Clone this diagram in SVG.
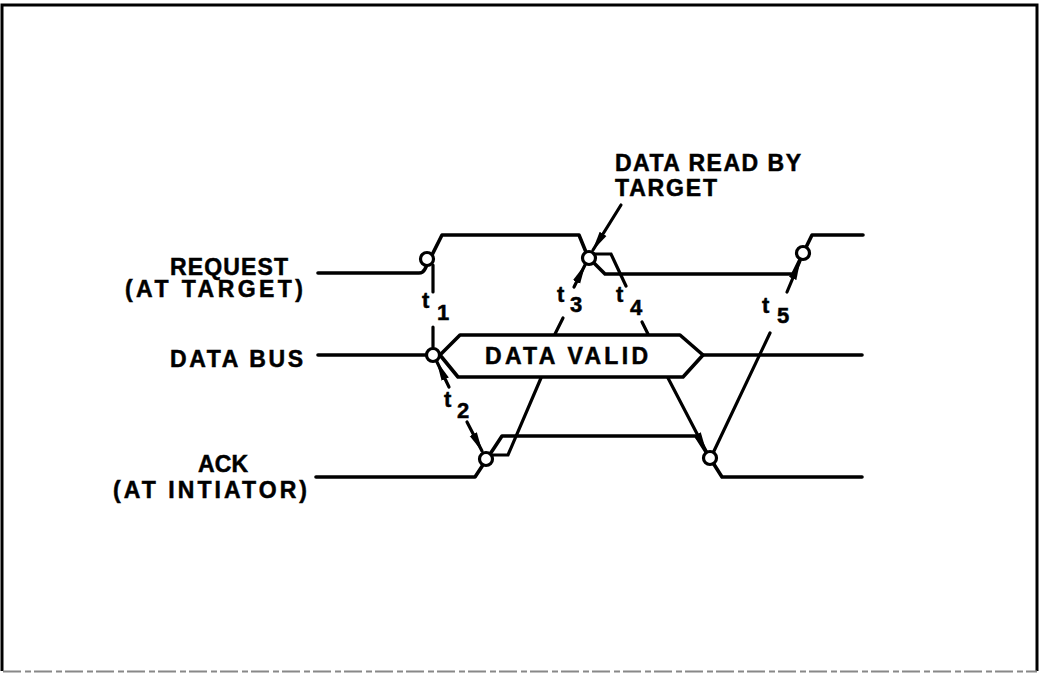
<svg xmlns="http://www.w3.org/2000/svg" width="1042" height="673" viewBox="0 0 1042 673">
  <style>
    .wave { fill: none; stroke: #000; stroke-width: 3.6; stroke-linejoin: round; stroke-linecap: round; }
    .conn { fill: none; stroke: #000; stroke-width: 3.2; stroke-linecap: round; }
    .evt  { fill: #fff; stroke: #000; stroke-width: 3.2; }
    .lbl  { font-family: "Liberation Sans", Arial, sans-serif; font-weight: bold; font-size: 23px; fill: #000; stroke: #000; stroke-width: 0.5; }
    .tl   { font-family: "Liberation Sans", Arial, sans-serif; font-weight: bold; font-size: 22px; fill: #000; stroke: #000; stroke-width: 0.5; }
  </style>
  <defs>
    <marker id="head" markerUnits="userSpaceOnUse" markerWidth="20" markerHeight="10" viewBox="0 0 20 10" refX="19" refY="5" orient="auto">
      <path d="M0,1 L20,5 L0,9 Z" fill="#000"/>
    </marker>
  </defs>

  <rect width="1042" height="673" fill="#fff"/>

  <!-- frame -->
  <g id="frame">
    <path d="M2,671 L2,5 L1037,5 L1037,671" fill="none" stroke="#000" stroke-width="3"/>
    <line x1="3" y1="671.5" x2="1037" y2="671.5" stroke="#888" stroke-width="2" stroke-dasharray="18 4 6 3"/>
  </g>

  <!-- signal labels -->
  <g id="label-request">
    <text class="lbl" x="170" y="275" textLength="118" lengthAdjust="spacing">REQUEST</text>
    <text class="lbl" x="125" y="297" textLength="178" lengthAdjust="spacing">(AT TARGET)</text>
  </g>
  <g id="label-databus">
    <text class="lbl" x="170" y="367" textLength="133" lengthAdjust="spacing">DATA BUS</text>
  </g>
  <g id="label-ack">
    <text class="lbl" x="198" y="472" textLength="50" lengthAdjust="spacing">ACK</text>
    <text class="lbl" x="113" y="498" textLength="194" lengthAdjust="spacing">(AT INTIATOR)</text>
  </g>
  <g id="label-dataread">
    <text class="lbl" x="615" y="171" textLength="186" lengthAdjust="spacing">DATA READ BY</text>
    <text class="lbl" x="615" y="196" textLength="102" lengthAdjust="spacing">TARGET</text>
  </g>

  <!-- REQUEST waveform -->
  <g id="request">
    <path class="wave" d="M318,273 L419,273 Q423,273 425,269 L442,235 L579,235 L588,257 L605,274 L793,274 L812,235 L863,235"/>
    <circle class="evt" cx="427" cy="259" r="6.5"/>
    <circle class="evt" cx="589" cy="258" r="6.5"/>
    <circle class="evt" cx="803" cy="253" r="6.5"/>
  </g>

  <!-- DATA BUS waveform -->
  <g id="databus">
    <line class="wave" x1="318" y1="355" x2="433" y2="355"/>
    <path class="wave" d="M440,355 L460,335 L680,335 L703,355 L683,377 L458,377 Z"/>
    <line class="wave" x1="703" y1="355" x2="862" y2="355"/>
    <circle class="evt" cx="433" cy="355" r="6.5"/>
    <text class="lbl" x="485" y="364" textLength="163" lengthAdjust="spacing">DATA VALID</text>
  </g>

  <!-- ACK waveform -->
  <g id="ack">
    <path class="wave" d="M316,477 L475,477 L502,436 L696,436 L722,477 L862,477"/>
    <circle class="evt" cx="486" cy="459" r="6.5"/>
    <circle class="evt" cx="710" cy="458" r="6.5"/>
  </g>

  <!-- timing connectors -->
  <g id="connectors">
    <!-- data read by target -->
    <line class="conn" x1="621" y1="205" x2="593" y2="250" marker-end="url(#head)"/>
    <!-- t1 -->
    <line class="conn" x1="433" y1="265" x2="433" y2="292"/>
    <line class="conn" x1="433" y1="327" x2="433" y2="347"/>
    <!-- t2 -->
    <line class="conn" x1="449" y1="387" x2="437" y2="362" marker-end="url(#head)"/>
    <line class="conn" x1="467" y1="422" x2="482" y2="451" marker-end="url(#head)"/>
    <!-- t3 -->
    <path class="conn" d="M492,455 L508,455 L541,378"/>
    <line class="conn" x1="555" y1="334" x2="563" y2="318"/>
    <line class="conn" x1="574" y1="287" x2="585" y2="265" marker-end="url(#head)"/>
    <!-- t4 -->
    <path class="conn" d="M594,254 L611,254 L626,286"/>
    <line class="conn" x1="642" y1="322" x2="648" y2="334"/>
    <line class="conn" x1="668" y1="378" x2="706" y2="451" marker-end="url(#head)"/>
    <!-- t5 -->
    <line class="conn" x1="714" y1="451" x2="770" y2="333"/>
    <line class="conn" x1="787" y1="292" x2="800" y2="261" marker-end="url(#head)"/>
  </g>

  <!-- interval labels -->
  <g id="t-labels">
    <text class="tl" x="422" y="308">t<tspan x="437" y="320">1</tspan></text>
    <text class="tl" x="444" y="407">t<tspan x="457" y="418">2</tspan></text>
    <text class="tl" x="557" y="302">t<tspan x="570" y="312">3</tspan></text>
    <text class="tl" x="616" y="302">t<tspan x="630" y="315">4</tspan></text>
    <text class="tl" x="762" y="313">t<tspan x="777" y="323">5</tspan></text>
  </g>
</svg>
